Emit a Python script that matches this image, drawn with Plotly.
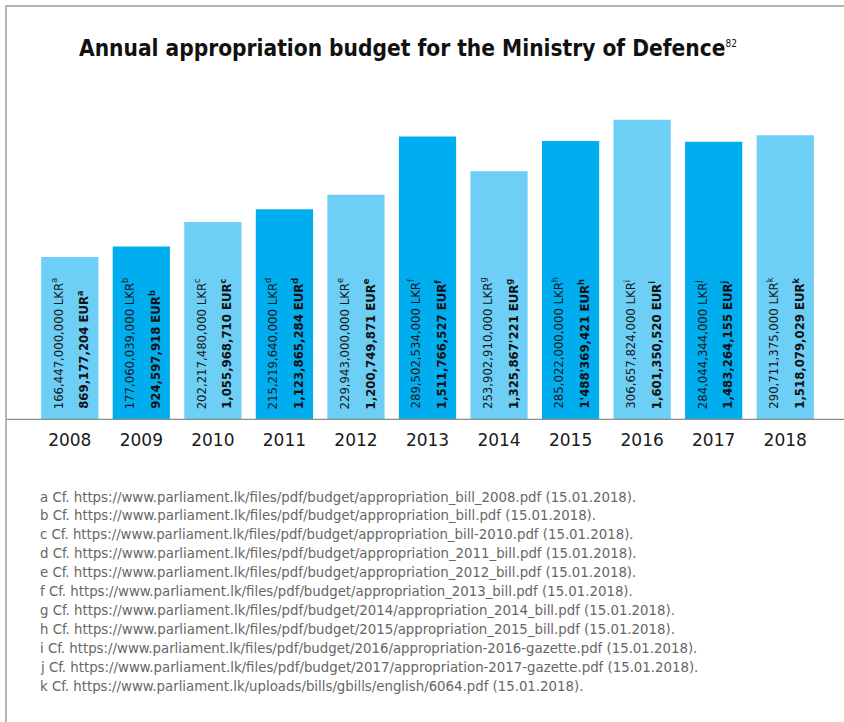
import plotly.graph_objects as go

years = ["2008", "2009", "2010", "2011", "2012", "2013", "2014", "2015", "2016", "2017", "2018"]
eur_values = [869177204, 924597918, 1055968710, 1123865284, 1200749871, 1511766527,
              1325867221, 1488369421, 1601350520, 1483264155, 1518079029]
lkr_labels = ["166,447,000,000", "177,060,039,000", "202,217,480,000", "215,219,640,000",
              "229,943,000,000", "289,502,534,000", "253,902,910,000", "285,022,000,000",
              "306,657,824,000", "284,044,344,000", "290,711,375,000"]
eur_labels = ["869,177,204", "924,597,918", "1,055,968,710", "1,123,865,284", "1,200,749,871",
              "1,511,766,527", "1,325,867'221", "1'488'369,421", "1,601,350,520",
              "1,483,264,155", "1,518,079,029"]
note_keys = ["a", "b", "c", "d", "e", "f", "g", "h", "i", "j", "k"]
footnotes = [
    "a Cf. https://www.parliament.lk/files/pdf/budget/appropriation_bill_2008.pdf (15.01.2018).",
    "b Cf. https://www.parliament.lk/files/pdf/budget/appropriation_bill.pdf (15.01.2018).",
    "c Cf. https://www.parliament.lk/files/pdf/budget/appropriation_bill-2010.pdf (15.01.2018).",
    "d Cf. https://www.parliament.lk/files/pdf/budget/appropriation_2011_bill.pdf (15.01.2018).",
    "e Cf. https://www.parliament.lk/files/pdf/budget/appropriation_2012_bill.pdf (15.01.2018).",
    "f Cf. https://www.parliament.lk/files/pdf/budget/appropriation_2013_bill.pdf (15.01.2018).",
    "g Cf. https://www.parliament.lk/files/pdf/budget/2014/appropriation_2014_bill.pdf (15.01.2018).",
    "h Cf. https://www.parliament.lk/files/pdf/budget/2015/appropriation_2015_bill.pdf (15.01.2018).",
    "i Cf. https://www.parliament.lk/files/pdf/budget/2016/appropriation-2016-gazette.pdf (15.01.2018).",
    "j Cf. https://www.parliament.lk/files/pdf/budget/2017/appropriation-2017-gazette.pdf (15.01.2018).",
    "k Cf. https://www.parliament.lk/uploads/bills/gbills/english/6064.pdf (15.01.2018).",
]

LIGHT = "#6DCFF6"
DARK = "#00AEEF"
colors = [LIGHT if i % 2 == 0 else DARK for i in range(len(years))]
FONT = "DejaVu Sans Condensed, DejaVu Sans, sans-serif"

W, H = 844, 722
ML, MR, MT, MB = 34, 23, 110, 302
PW = W - ML - MR
PH = H - MT - MB


def px(x):
    return (x - ML) / PW


def py(y):
    return (H - MB - y) / PH


fig = go.Figure(go.Bar(
    x=years, y=eur_values, marker=dict(color=colors, line=dict(width=0)),
    hoverinfo="skip",
))

annotations = []
for i, (lkr, eur, k) in enumerate(zip(lkr_labels, eur_labels, note_keys)):
    annotations.append(dict(
        x=i, y=0, xref="x", yref="paper", text=f"{lkr} LKR<sup>{k}</sup>",
        textangle=-90, showarrow=False, xanchor="center", yanchor="bottom",
        xshift=-13, yshift=9, font=dict(family=FONT, size=13, color="#1a1a1a"),
    ))
    annotations.append(dict(
        x=i, y=0, xref="x", yref="paper", text=f"<b>{eur} EUR<sup>{k}</sup></b>",
        textangle=-90, showarrow=False, xanchor="center", yanchor="bottom",
        xshift=13, yshift=9, font=dict(family=FONT, size=13, color="#111111"),
    ))

annotations.append(dict(
    x=px(77), y=py(48), xref="paper", yref="paper", xanchor="left", yanchor="middle",
    text="<b>Annual appropriation budget for the Ministry of Defence</b>"
         "<sup><span style='font-size:10px'>82</span></sup>",
    showarrow=False, font=dict(family=FONT, size=22.5, color="#111111"),
))

for i, line in enumerate(footnotes):
    annotations.append(dict(
        x=px(38), y=py(496 + i * 18.9), xref="paper", yref="paper", xanchor="left",
        yanchor="middle", text=line, showarrow=False,
        font=dict(family=FONT, size=14.8, color="#666666"),
    ))

shapes = [
    dict(type="line", xref="paper", yref="y", x0=px(7), x1=px(844), y0=0, y1=0,
         line=dict(color="#8c8c8c", width=2.5)),
    dict(type="line", xref="paper", yref="paper", x0=px(5), x1=px(844), y0=py(6), y1=py(6),
         line=dict(color="#b4b4b4", width=2)),
    dict(type="line", xref="paper", yref="paper", x0=px(6), x1=px(6), y0=py(5), y1=py(722),
         line=dict(color="#b4b4b4", width=2)),
]

fig.update_layout(
    width=W, height=H, margin=dict(l=ML, r=MR, t=MT, b=MB, pad=0),
    paper_bgcolor="white", plot_bgcolor="white", showlegend=False,
    bargap=0.2,
    xaxis=dict(type="category", range=[-0.5, 10.5], showgrid=False, zeroline=False,
               showline=False, ticks="",
               tickfont=dict(family="DejaVu Sans, sans-serif", size=17, color="#1a1a1a"),
               ticklabelstandoff=8),
    yaxis=dict(range=[0, PH / (163 / 869177204)], showgrid=False, zeroline=False,
               showline=False, showticklabels=False, ticks=""),
    annotations=annotations, shapes=shapes,
)

fig.write_html("out.html", config={"displayModeBar": False},
               post_script="document.body.style.margin='0';document.body.style.padding='0';")
